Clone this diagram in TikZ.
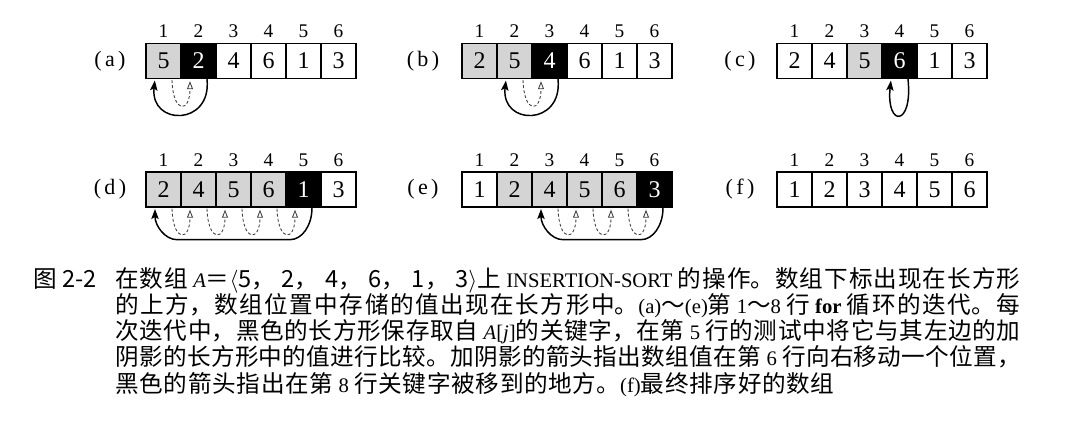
\documentclass[tikz,border=0pt]{standalone}
\usepackage{fontspec}
\setmainfont{Liberation Serif}
\newfontfamily\cjk{Noto Sans CJK SC}
\newfontfamily\lat{Liberation Serif}
\usetikzlibrary{arrows.meta,calc}
\XeTeXlinebreaklocale "zh"
\XeTeXlinebreakskip=0pt plus 1fil
\colorlet{sh}{black!17}\colorlet{tsh}{black}
\colorlet{wh}{white}\colorlet{twh}{black}
\colorlet{bk}{black}\colorlet{tbk}{white}
\newcommand\cj{\cjk\fontsize{17.7}{26}\selectfont}
\newcommand\lt[1]{{\lat\fontsize{15.5}{26}\selectfont #1}}
\newcommand\cm{，\hspace{5pt}}
\newcommand\drawarray[4]{%
  \foreach[count=\i] \f/\v in {#4} {%
    \node[acell, fill=\f, text=t\f] (#1\i) at ({#2+35*\i-17.5},#3) {\v};
    \node[idx] (#1n\i) at ({#2+35*\i-17.5},{#3-29.5}) {\i};
  }}
\newcommand\solidshort[2]{\draw[solidarr] ($(#1.south)+(8.5,0)$) .. controls +(5,47) and +(-5,47) .. ($(#2.south)+(-8.5,0)$);}
\newcommand\solidlong[2]{\draw[solidarr] ($(#1.south)+(8.5,0)$) .. controls +(0,18) and +(12,0) .. ($(#1.south)+(-13.5,32)$) -- ($(#2.south)+(13.5,32)$) .. controls +(-12,0) and +(0,18) .. ($(#2.south)+(-8.5,0)$);}
\newcommand\dashmv[2]{\draw[dasharr] ($(#1.south)+(8.5,1)$) .. controls +(1,34) and +(0,34) .. ($(#2.south)+(-8.5,0)$);}
\begin{document}
\begin{tikzpicture}[x=0.75pt,y=-0.75pt,
  acell/.style={draw, line width=1pt, minimum width=26.25pt, minimum height=26.25pt, inner sep=0pt, font=\fontsize{18}{18}\selectfont},
  idx/.style={inner sep=0pt, font=\fontsize{14.5}{14.5}\selectfont},
  lbl/.style={inner sep=0pt, font=\fontsize{16.5}{16.5}\selectfont},
  solidarr/.style={line width=1.1pt, shorten >=1pt, -{Stealth[length=7.5pt,width=5.5pt,inset=1.5pt]}},
  dasharr/.style={draw=black!75, line width=0.65pt, dash pattern=on 2.2pt off 1.6pt, shorten >=1.5pt, -{Triangle[open,length=6pt,width=4.5pt,line width=0.65pt]}},
  capline/.style={anchor=base west, inner sep=0pt, text width=679.5pt, align=justify},
  capend/.style={anchor=base west, inner sep=0pt}
]
\useasboundingbox (0,0) rectangle (1080,442);
\fill[white] (0,0) rectangle (1080,442);
% row 1
\node[lbl] (la) at (110,61) {(\hspace{2.5pt}a\hspace{2.5pt})};
\drawarray{a}{146}{61}{sh/5, bk/2, wh/4, wh/6, wh/1, wh/3}
\node[lbl] (lb) at (423,61) {(\hspace{2.5pt}b\hspace{2.5pt})};
\drawarray{b}{462}{61}{sh/2, sh/5, bk/4, wh/6, wh/1, wh/3}
\node[lbl] (lc) at (740,61) {(\hspace{2.5pt}c\hspace{2.5pt})};
\drawarray{c}{777}{61}{wh/2, wh/4, sh/5, bk/6, wh/1, wh/3}
% row 2
\node[lbl] (ld) at (110,189.5) {(\hspace{2.5pt}d\hspace{2.5pt})};
\drawarray{d}{146}{189.5}{sh/2, sh/4, sh/5, sh/6, bk/1, wh/3}
\node[lbl] (le) at (423,189.5) {(\hspace{2.5pt}e\hspace{2.5pt})};
\drawarray{e}{462}{189.5}{wh/1, sh/2, sh/4, sh/5, sh/6, bk/3}
\node[lbl] (lf) at (740,189.5) {(\hspace{2.5pt}f\hspace{2.5pt})};
\drawarray{f}{777}{189.5}{wh/1, wh/2, wh/3, wh/4, wh/5, wh/6}
% arrows
\dashmv{a1}{a2}
\solidshort{a2}{a1}
\dashmv{b2}{b3}
\solidshort{b3}{b2}
\draw[solidarr] ($(c4.south)+(8.5,0)$) .. controls +(5,48) and +(-5,48) .. ($(c4.south)+(-8.5,0)$);
\dashmv{d1}{d2}\dashmv{d2}{d3}\dashmv{d3}{d4}\dashmv{d4}{d5}
\solidlong{d5}{d1}
\dashmv{e3}{e4}\dashmv{e4}{e5}\dashmv{e5}{e6}
\solidlong{e6}{e3}
% caption
\node[capend] (fig) at (33,287) {\cj 图 2-2};
\node[capline] (c1) at (115,287) {\noindent\parfillskip=0pt\relax\cj 在数组 \lt{\itshape A}＝$\langle$5\cm 2\cm 4\cm 6\cm 1\cm 3$\rangle$上 \lt{INSERTION-SORT} 的操作。数组下标出现在长方形};
\node[capline] (c2) at (115,313.25) {\noindent\parfillskip=0pt\relax\cj 的上方，数组位置中存储的值出现在长方形中。\lt{(a)}～\lt{(e)}第 \lt{1}～\lt{8} 行 \lt{\bfseries for} 循环的迭代。每};
\node[capline] (c3) at (115,339.5) {\noindent\parfillskip=0pt\relax\cj 次迭代中，黑色的长方形保存取自 \lt{\itshape A}\lt{[}\lt{\itshape j}\lt{]}的关键字，在第 \lt{5} 行的测试中将它与其左边的加};
\node[capline] (c4) at (115,365.75) {\noindent\parfillskip=0pt\relax\cj 阴影的长方形中的值进行比较。加阴影的箭头指出数组值在第 \lt{6} 行向右移动一个位置，};
\node[capline, text width=540pt] (c5) at (115,392) {\noindent\parfillskip=0pt\relax\cj 黑色的箭头指出在第 \lt{8} 行关键字被移到的地方。\lt{(f)}最终排序好的数组};
\end{tikzpicture}
\end{document}
